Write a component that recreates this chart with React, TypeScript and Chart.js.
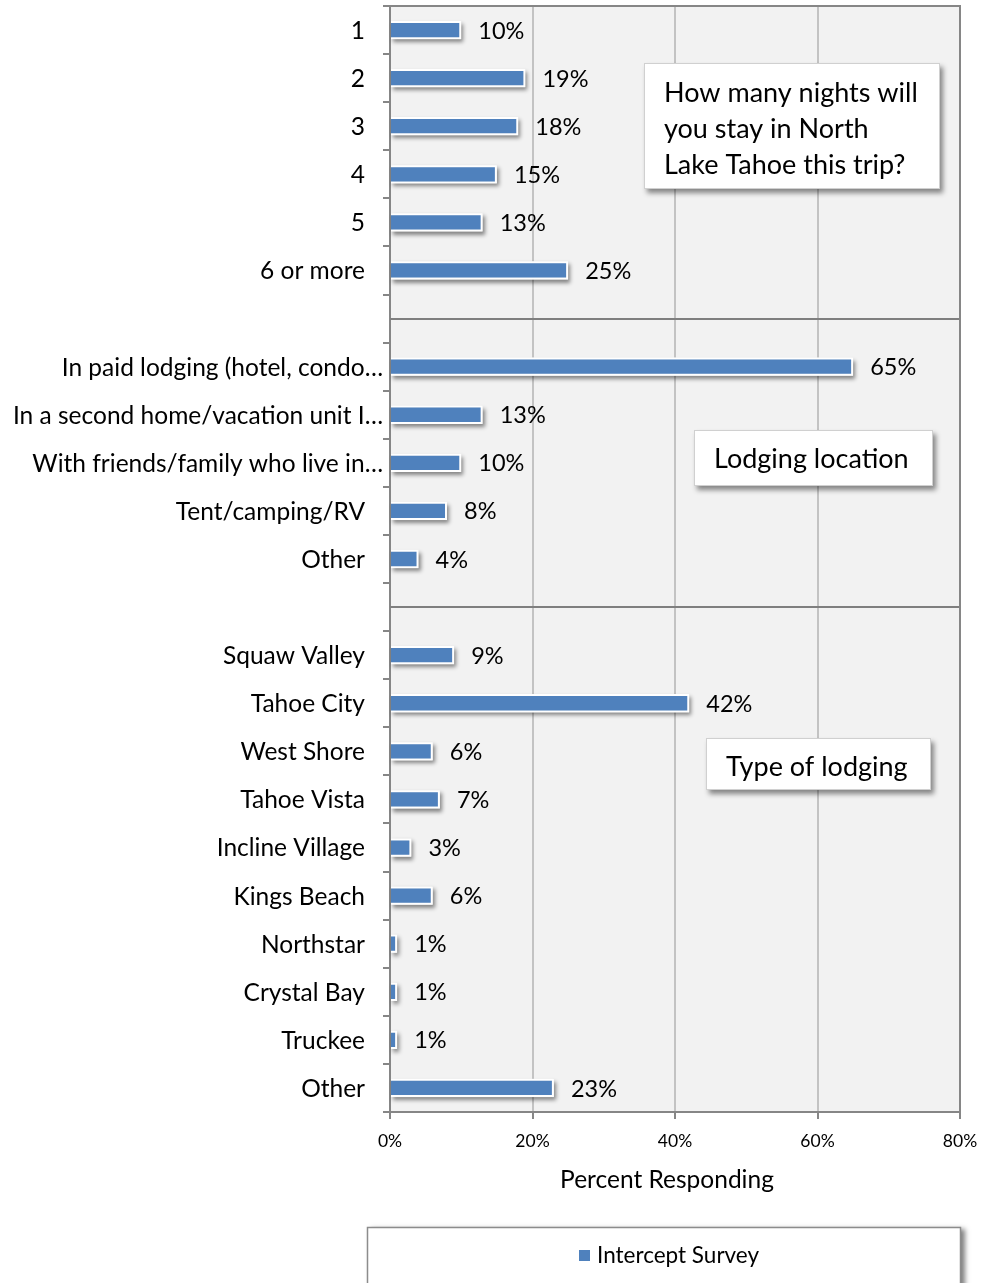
import React, { useEffect, useRef } from "react";
import { Chart, registerables } from "chart.js";

Chart.register(...registerables);

const nightsLabels = ["1", "2", "3", "4", "5", "6 or more"];
const nightsValues = [10, 19, 18, 15, 13, 25];
const locationLabels = [
  "In paid lodging (hotel, condo…",
  "In a second home/vacation unit I…",
  "With friends/family who live in…",
  "Tent/camping/RV",
  "Other",
];
const locationValues = [65, 13, 10, 8, 4];
const typeLabels = [
  "Squaw Valley",
  "Tahoe City",
  "West Shore",
  "Tahoe Vista",
  "Incline Village",
  "Kings Beach",
  "Northstar",
  "Crystal Bay",
  "Truckee",
  "Other",
];
const typeValues = [9, 42, 6, 7, 3, 6, 1, 1, 1, 23];
const xTickValues = [0, 20, 40, 60, 80];
const seriesName = "Intercept Survey";
const axisTitle = "Percent Responding";
const noteNights = ["How many nights will", "you stay in North", "Lake Tahoe this trip?"];
const noteLocation = ["Lodging location"];
const noteType = ["Type of lodging"];

const categories = [...nightsLabels, "", ...locationLabels, "", ...typeLabels];
const values: (number | null)[] = [...nightsValues, null, ...locationValues, null, ...typeValues];
const separatorIdx = [nightsLabels.length, nightsLabels.length + 1 + locationLabels.length];

const FONT = "Lato";
const BAR = "#4f81bd";
const AXIS = "#868686";
const GRID = "#c3c3c3";

function drawNote(ctx: CanvasRenderingContext2D, x: number, y: number, w: number, h: number, lines: string[], tx: number, ty: number, lh: number, size: number) {
  ctx.save();
  ctx.shadowColor = "rgba(0,0,0,0.45)";
  ctx.shadowBlur = 5;
  ctx.shadowOffsetX = 3;
  ctx.shadowOffsetY = 4;
  ctx.fillStyle = "#ffffff";
  ctx.fillRect(x, y, w, h);
  ctx.restore();
  ctx.save();
  ctx.strokeStyle = "#d0d0d0";
  ctx.lineWidth = 1;
  ctx.strokeRect(x + 0.5, y + 0.5, w - 1, h - 1);
  ctx.fillStyle = "#000";
  ctx.font = `${size}px ${FONT}`;
  ctx.textAlign = "left";
  ctx.textBaseline = "middle";
  lines.forEach((l, i) => ctx.fillText(l, tx, ty + i * lh));
  ctx.restore();
}

const decorPlugin = {
  id: "decor",
  beforeDraw(chart: any) {
    const { ctx, chartArea: a } = chart;
    ctx.save();
    ctx.fillStyle = "#f2f2f2";
    ctx.fillRect(a.left, a.top, a.right - a.left, a.bottom - a.top);
    ctx.restore();
  },
  beforeDatasetsDraw(chart: any) {
    const { ctx } = chart;
    const meta = chart.getDatasetMeta(0);
    ctx.save();
    ctx.shadowColor = "rgba(0,0,0,0.45)";
    ctx.shadowBlur = 4;
    ctx.shadowOffsetX = 2;
    ctx.shadowOffsetY = 3;
    ctx.fillStyle = "#f2f2f2";
    meta.data.forEach((bar: any, i: number) => {
      if (values[i] == null) return;
      const p = bar.getProps(["x", "y", "base", "height"], true);
      ctx.fillRect(p.base, p.y - p.height / 2, p.x - p.base, p.height);
    });
    ctx.restore();
  },
  afterDatasetsDraw(chart: any) {
    const { ctx, chartArea: a } = chart;
    const y = chart.scales.y;
    const meta = chart.getDatasetMeta(0);
    ctx.save();
    ctx.strokeStyle = "#7f7f7f";
    ctx.lineWidth = 2;
    separatorIdx.forEach((i) => {
      const py = Math.round(y.getPixelForValue(i));
      ctx.beginPath();
      ctx.moveTo(a.left, py);
      ctx.lineTo(a.right, py);
      ctx.stroke();
    });
    ctx.strokeStyle = AXIS;
    ctx.beginPath();
    ctx.moveTo(a.left, a.top);
    ctx.lineTo(a.right, a.top);
    ctx.lineTo(a.right, a.bottom);
    ctx.stroke();
    ctx.fillStyle = "#000";
    ctx.font = `23.5px ${FONT}`;
    ctx.textAlign = "left";
    ctx.textBaseline = "middle";
    meta.data.forEach((bar: any, i: number) => {
      const v = values[i];
      if (v == null) return;
      ctx.fillText(`${v}%`, bar.x + 17, bar.y + 1);
    });
    ctx.font = `24.5px ${FONT}`;
    ctx.textAlign = "right";
    categories.forEach((c, i) => {
      if (!c) return;
      const py = y.getPixelForValue(i);
      const px = c.endsWith("…") ? a.left - 7 : a.left - 25;
      ctx.fillText(c, px, py + 1);
    });
    ctx.font = `24.5px ${FONT}`;
    ctx.textAlign = "center";
    ctx.fillText(axisTitle, 667, 1180);
    ctx.restore();
  },
  afterDraw(chart: any) {
    const { ctx } = chart;
    drawNote(ctx, 644, 63, 296, 126, noteNights, 664, 93, 36, 27);
    drawNote(ctx, 694, 430, 239, 56, noteLocation, 714, 459, 36, 27);
    drawNote(ctx, 706, 738, 225, 52, noteType, 726, 767, 36, 27);
    ctx.save();
    ctx.shadowColor = "rgba(0,0,0,0.5)";
    ctx.shadowBlur = 5;
    ctx.shadowOffsetX = 4;
    ctx.shadowOffsetY = 2;
    ctx.fillStyle = "#fff";
    ctx.fillRect(367, 1227, 594, 80);
    ctx.restore();
    ctx.save();
    ctx.strokeStyle = "#8c8c8c";
    ctx.lineWidth = 1.5;
    ctx.strokeRect(367.5, 1227.5, 593, 80);
    ctx.fillStyle = BAR;
    ctx.fillRect(579, 1250, 11, 11);
    ctx.fillStyle = "#000";
    ctx.font = `22.5px ${FONT}`;
    ctx.textAlign = "left";
    ctx.textBaseline = "middle";
    ctx.fillText(seriesName, 597, 1256);
    ctx.restore();
  },
};

export default function App() {
  const ref = useRef<HTMLCanvasElement>(null);
  useEffect(() => {
    document.body.style.margin = "0";
    const chart = new Chart(ref.current!, {
      type: "bar",
      data: {
        labels: categories,
        datasets: [
          {
            label: seriesName,
            data: values,
            backgroundColor: BAR,
            borderColor: "#ffffff",
            borderWidth: 2,
            borderSkipped: "start",
            barPercentage: 0.38,
            categoryPercentage: 1,
          },
        ],
      },
      options: {
        indexAxis: "y",
        animation: false,
        responsive: false,
        maintainAspectRatio: false,
        layout: { padding: { top: 6, right: 21, left: 0, bottom: 0 } },
        plugins: { legend: { display: false }, tooltip: { enabled: false } },
        scales: {
          x: {
            min: 0,
            max: 80,
            afterBuildTicks: (s: any) => {
              s.ticks = xTickValues.map((v) => ({ value: v }));
            },
            ticks: {
              callback: (v: any) => `${v}%`,
              font: { family: FONT, size: 17.5 },
              color: "#000",
              padding: 12,
              maxRotation: 0,
            },
            grid: {
              color: (c: any) => (c.tick && c.tick.value === 0 ? "rgba(0,0,0,0)" : GRID),
              lineWidth: 2,
              tickLength: 7,
              tickColor: AXIS,
            },
            border: { display: true, color: AXIS, width: 2 },
            afterFit: (s: any) => {
              s.height = 171;
              s.paddingLeft = 0;
              s.paddingRight = 0;
            },
          },
          y: {
            ticks: { display: false },
            grid: { drawOnChartArea: false, tickLength: 7, color: AXIS, lineWidth: 2, offset: true },
            border: { display: true, color: AXIS, width: 2 },
            afterFit: (s: any) => {
              s.width = 390;
              s.paddingTop = 0;
              s.paddingBottom = 0;
            },
          },
        },
      },
      plugins: [decorPlugin],
    } as any);
    return () => chart.destroy();
  }, []);
  return <canvas ref={ref} width={981} height={1283} style={{ display: "block", width: 981, height: 1283 }} />;
}
